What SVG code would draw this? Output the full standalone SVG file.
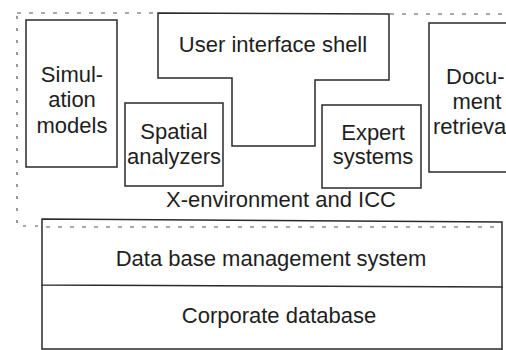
<svg xmlns="http://www.w3.org/2000/svg" width="506" height="350" viewBox="0 0 506 350">
<style>
.b{fill:none;stroke:#2a2a2a;stroke-width:1.5}
.d{fill:none;stroke:#555;stroke-width:1.2;stroke-dasharray:4 8}
.t{font-family:"Liberation Sans",Arial,sans-serif;font-size:22px;fill:#1e1e1e;text-anchor:middle}
.s{text-anchor:start}
</style>
<rect width="506" height="350" fill="#fff"/>
<g id="frame">
<path class="d" d="M17,13 H158 M390,14 H506"/>
<path class="d" d="M17,16 V226 H40" style="stroke-dasharray:3 9"/>
<path class="d" d="M46,227 H500"/>
</g>
<g id="simulation-models">
<rect class="b" x="26" y="20" width="91" height="147"/>
<text class="t" x="72" y="82">Simul-</text>
<text class="t" x="72" y="107">ation</text>
<text class="t" x="72" y="133">models</text>
</g>
<g id="user-interface-shell">
<polygon class="b" points="158,13 389,14 389,80 315,80 315,146 232,146 232,78 158,78"/>
<text class="t" x="273" y="52">User interface shell</text>
</g>
<g id="spatial-analyzers">
<rect class="b" x="125" y="103" width="98" height="83"/>
<text class="t" x="174" y="139">Spatial</text>
<text class="t" x="174" y="164">analyzers</text>
</g>
<g id="expert-systems">
<rect class="b" x="322" y="105" width="99" height="83"/>
<text class="t" x="373" y="140">Expert</text>
<text class="t" x="373" y="164">systems</text>
</g>
<g id="document-retrieval">
<path class="b" d="M507,23 H429 V172 H507"/>
<text class="t s" x="446" y="84">Docu-</text>
<text class="t" x="477" y="109">ment</text>
<text class="t s" x="433" y="134">retrieval</text>
</g>
<text class="t" x="281" y="207">X-environment and ICC</text>
<g id="dbms">
<path class="b" d="M42,219 L502,222 L502,287 L42,285 Z"/>
<text class="t" x="271" y="266">Data base management system</text>
</g>
<g id="corporate-database">
<path class="b" d="M42,285 V349 H502 M502,287 V350"/>
<text class="t" x="279" y="323">Corporate database</text>
</g>
</svg>
